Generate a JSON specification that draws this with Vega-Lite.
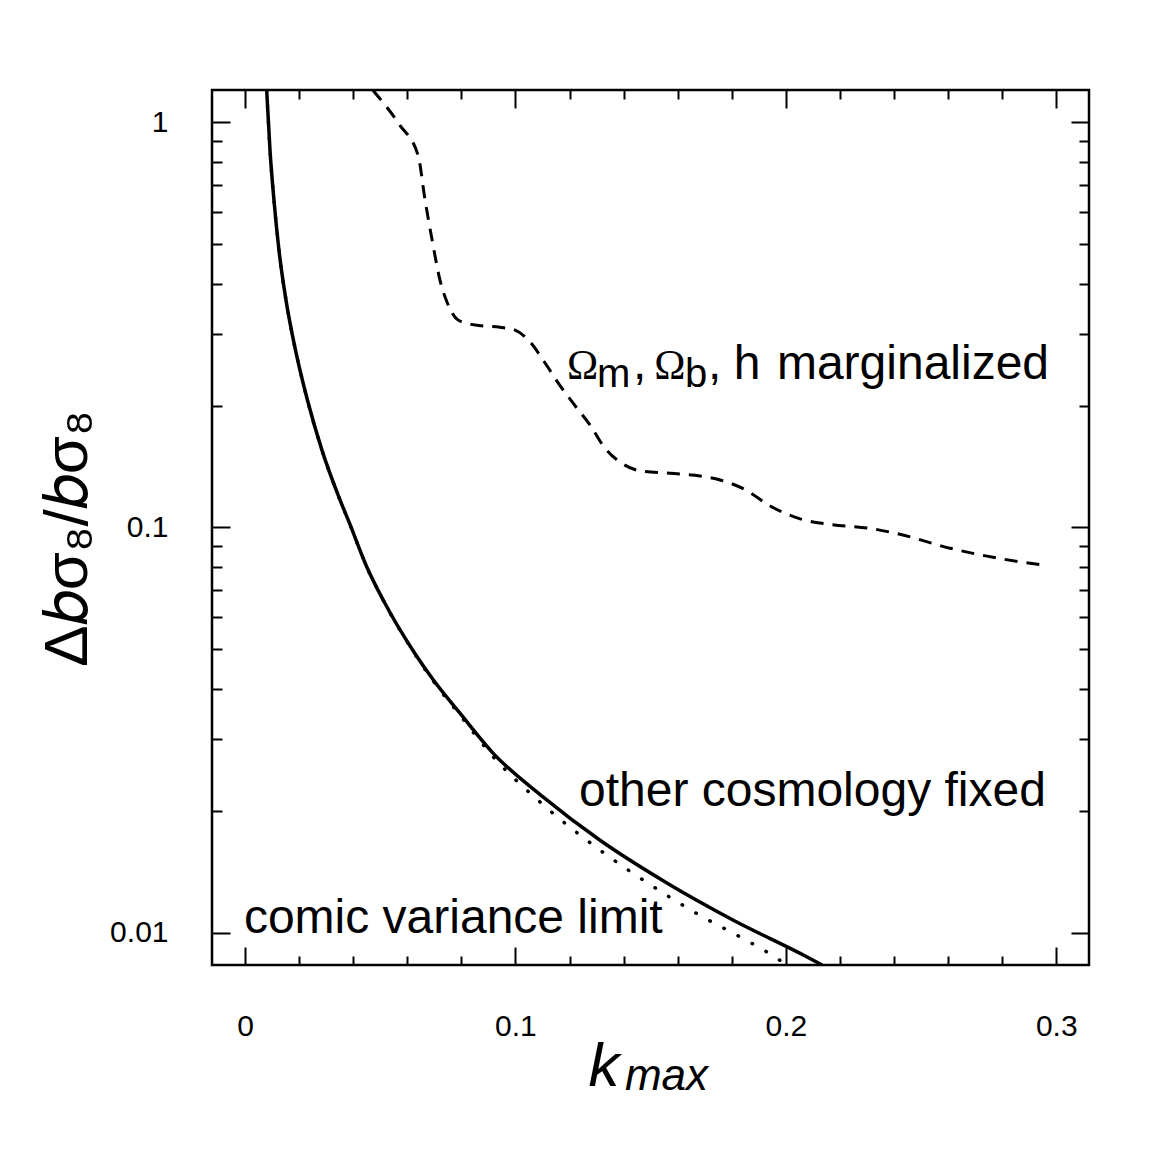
{
  "$schema": "https://vega.github.io/schema/vega-lite/v6.json",
  "width": 877,
  "height": 875,
  "autosize": {"type": "none"},
  "padding": {"left": 212, "top": 90, "right": 74, "bottom": 185},
  "background": "white",
  "config": {
    "view": {"stroke": "black", "strokeWidth": 2.5},
    "axis": {"domain": false, "grid": false, "labelFont": "Liberation Sans", "labelFontSize": 30, "labelColor": "black", "tickColor": "black", "tickWidth": 2, "titleColor": "black", "titleFontWeight": "normal"}
  },
  "datasets": {
    "solid": [
      {"k": 0.00802, "v": 1.20}, {"k": 0.00925, "v": 0.853}, {"k": 0.01072, "v": 0.642}, {"k": 0.01257, "v": 0.483},
      {"k": 0.01516, "v": 0.364}, {"k": 0.01868, "v": 0.274}, {"k": 0.02311, "v": 0.206}, {"k": 0.02848, "v": 0.155},
      {"k": 0.03513, "v": 0.117}, {"k": 0.03846, "v": 0.1032}, {"k": 0.045, "v": 0.08}, {"k": 0.0511, "v": 0.0662},
      {"k": 0.0621, "v": 0.0497}, {"k": 0.0696, "v": 0.0421}, {"k": 0.0795, "v": 0.0348}, {"k": 0.0918, "v": 0.0277},
      {"k": 0.1103, "v": 0.0216}, {"k": 0.1313, "v": 0.0169}, {"k": 0.156, "v": 0.01326}, {"k": 0.1806, "v": 0.01073},
      {"k": 0.2077, "v": 0.00872}, {"k": 0.2134, "v": 0.00832}
    ],
    "dotted": [
      {"k": 0.00802, "v": 1.20}, {"k": 0.00925, "v": 0.853}, {"k": 0.01072, "v": 0.642}, {"k": 0.01257, "v": 0.483},
      {"k": 0.01516, "v": 0.364}, {"k": 0.01868, "v": 0.274}, {"k": 0.02311, "v": 0.206}, {"k": 0.02848, "v": 0.155},
      {"k": 0.03513, "v": 0.117}, {"k": 0.03846, "v": 0.1032}, {"k": 0.045, "v": 0.08}, {"k": 0.0511, "v": 0.0662},
      {"k": 0.0621, "v": 0.0495}, {"k": 0.0696, "v": 0.0418}, {"k": 0.0795, "v": 0.0344}, {"k": 0.0915, "v": 0.0273},
      {"k": 0.1095, "v": 0.0209}, {"k": 0.1315, "v": 0.01594}, {"k": 0.1519, "v": 0.01287}, {"k": 0.1673, "v": 0.01112},
      {"k": 0.1833, "v": 0.00974}, {"k": 0.1938, "v": 0.00889}, {"k": 0.2004, "v": 0.00832}
    ],
    "dashed": [
      {"k": 0.0473, "v": 1.20}, {"k": 0.0573, "v": 0.983}, {"k": 0.064, "v": 0.829}, {"k": 0.0666, "v": 0.642},
      {"k": 0.0692, "v": 0.512}, {"k": 0.0721, "v": 0.408}, {"k": 0.0747, "v": 0.36}, {"k": 0.0788, "v": 0.325},
      {"k": 0.0851, "v": 0.316}, {"k": 0.0943, "v": 0.312}, {"k": 0.0999, "v": 0.307}, {"k": 0.1054, "v": 0.287},
      {"k": 0.1109, "v": 0.255}, {"k": 0.1165, "v": 0.224}, {"k": 0.122, "v": 0.2}, {"k": 0.1276, "v": 0.179},
      {"k": 0.1331, "v": 0.157}, {"k": 0.1387, "v": 0.145}, {"k": 0.1461, "v": 0.138}, {"k": 0.1572, "v": 0.136},
      {"k": 0.1683, "v": 0.134}, {"k": 0.1757, "v": 0.131}, {"k": 0.1849, "v": 0.124}, {"k": 0.1942, "v": 0.113},
      {"k": 0.2053, "v": 0.105}, {"k": 0.2163, "v": 0.1018}, {"k": 0.2311, "v": 0.0995}, {"k": 0.2422, "v": 0.0962},
      {"k": 0.2607, "v": 0.0889}, {"k": 0.2792, "v": 0.0838}, {"k": 0.2959, "v": 0.0806}
    ],
    "labels": [
      {"k": 0.1435, "v": 0.2321, "t": ","},
      {"k": 0.1712, "v": 0.2321, "t": ","},
      {"k": 0.1807, "v": 0.2321, "t": "h"},
      {"k": 0.1967, "v": 0.2321, "t": "marginalized"},
      {"k": 0.1235, "v": 0.02051, "t": "other cosmology fixed"},
      {"k": -0.0004, "v": 0.009966, "t": "comic variance limit"}
    ],
    "omegas": [
      {"k": 0.1191, "v": 0.2321, "t": "Ω"},
      {"k": 0.1513, "v": 0.2321, "t": "Ω"}
    ],
    "subs": [
      {"k": 0.1302, "v": 0.2218, "t": "m"},
      {"k": 0.1627, "v": 0.2218, "t": "b"}
    ],
    "kmax": [
      {"k": 0.1405, "v": 0.00408, "t": "max"}
    ]
  },
  "resolve": {"axis": {"x": "independent", "y": "independent"}},
  "layer": [
    {
      "data": {"name": "solid"},
      "mark": {"type": "line", "color": "black", "strokeWidth": 3.5, "interpolate": "monotone", "clip": true},
      "encoding": {
        "x": {"field": "k", "type": "quantitative", "scale": {"domain": [-0.0122, 0.3121], "nice": false, "zero": false},
          "axis": {"orient": "bottom", "values": [0, 0.1, 0.2, 0.3], "format": ".1~f", "tickSize": -18, "labelPadding": 64,
            "title": "k", "titleFont": "Liberation Sans", "titleFontStyle": "italic", "titleFontSize": 62,
            "titleBaseline": "alphabetic", "titleAlign": "left", "titleX": 376, "titleY": 120}},
        "y": {"field": "v", "type": "quantitative", "scale": {"type": "log", "domain": [0.00832, 1.2015], "nice": false},
          "axis": {"orient": "left", "values": [0.01, 0.1, 1], "format": "~g", "tickSize": -18, "labelPadding": 62, "labelBaseline": "middle",
            "title": "Δ𝑏σ₈/𝑏σ₈", "titleFont": "Liberation Sans", "titleFontSize": 62, "titleAngle": -90,
            "titleBaseline": "alphabetic", "titleAlign": "center", "titleX": -126, "titleY": 448}},
        "order": {"field": "k", "type": "quantitative"}
      }
    },
    {
      "data": {"name": "dashed"},
      "mark": {"type": "line", "color": "black", "strokeWidth": 3, "strokeDash": [13, 9], "interpolate": "monotone", "clip": true},
      "encoding": {
        "x": {"field": "k", "type": "quantitative",
          "axis": {"orient": "bottom", "values": [0.02, 0.04, 0.06, 0.08, 0.12, 0.14, 0.16, 0.18, 0.22, 0.24, 0.26, 0.28], "labels": false, "tickSize": -9, "title": null}},
        "y": {"field": "v", "type": "quantitative",
          "axis": {"orient": "left", "values": [0.02, 0.03, 0.04, 0.05, 0.06, 0.07, 0.08, 0.09, 0.2, 0.3, 0.4, 0.5, 0.6, 0.7, 0.8, 0.9], "labels": false, "tickSize": -10, "title": null}},
        "order": {"field": "k", "type": "quantitative"}
      }
    },
    {
      "data": {"name": "dotted"},
      "mark": {"type": "line", "color": "black", "strokeWidth": 3.5, "strokeDash": [0.5, 15.5], "strokeCap": "round", "interpolate": "monotone", "clip": true},
      "encoding": {
        "x": {"field": "k", "type": "quantitative",
          "axis": {"orient": "top", "values": [0, 0.1, 0.2, 0.3], "labels": false, "tickSize": -18, "title": null}},
        "y": {"field": "v", "type": "quantitative",
          "axis": {"orient": "right", "values": [0.01, 0.1, 1], "labels": false, "tickSize": -18, "title": null}},
        "order": {"field": "k", "type": "quantitative"}
      }
    },
    {
      "data": {"name": "labels"},
      "mark": {"type": "text", "font": "Liberation Sans", "fontSize": 48, "align": "left", "baseline": "alphabetic", "color": "black"},
      "encoding": {
        "x": {"field": "k", "type": "quantitative",
          "axis": {"orient": "top", "values": [0.02, 0.04, 0.06, 0.08, 0.12, 0.14, 0.16, 0.18, 0.22, 0.24, 0.26, 0.28], "labels": false, "tickSize": -9, "title": null}},
        "y": {"field": "v", "type": "quantitative",
          "axis": {"orient": "right", "values": [0.02, 0.03, 0.04, 0.05, 0.06, 0.07, 0.08, 0.09, 0.2, 0.3, 0.4, 0.5, 0.6, 0.7, 0.8, 0.9], "labels": false, "tickSize": -10, "title": null}},
        "text": {"field": "t"}
      }
    },
    {
      "data": {"name": "omegas"},
      "mark": {"type": "text", "font": "Liberation Serif", "fontSize": 42, "align": "left", "baseline": "alphabetic", "color": "black"},
      "encoding": {
        "x": {"field": "k", "type": "quantitative", "axis": null},
        "y": {"field": "v", "type": "quantitative", "axis": null},
        "text": {"field": "t"}
      }
    },
    {
      "data": {"name": "subs"},
      "mark": {"type": "text", "font": "Liberation Sans", "fontSize": 40, "align": "left", "baseline": "alphabetic", "color": "black"},
      "encoding": {
        "x": {"field": "k", "type": "quantitative", "axis": null},
        "y": {"field": "v", "type": "quantitative", "axis": null},
        "text": {"field": "t"}
      }
    },
    {
      "data": {"name": "kmax"},
      "mark": {"type": "text", "font": "Liberation Sans", "fontSize": 44, "fontStyle": "italic", "align": "left", "baseline": "alphabetic", "color": "black"},
      "encoding": {
        "x": {"field": "k", "type": "quantitative", "axis": null},
        "y": {"field": "v", "type": "quantitative", "axis": null},
        "text": {"field": "t"}
      }
    }
  ]
}
